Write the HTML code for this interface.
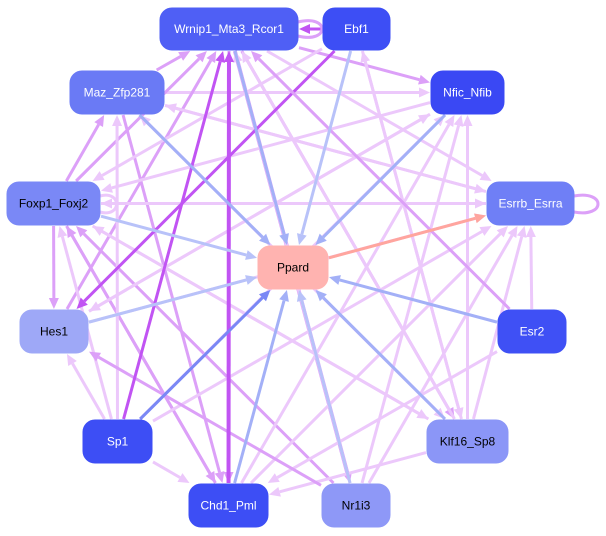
<!DOCTYPE html>
<html><head><meta charset="utf-8"><style>
html,body{margin:0;padding:0;background:#fff;width:606px;height:536px;overflow:hidden}
svg{display:block}
text{font-family:"Liberation Sans",sans-serif;font-size:12px}
</style></head><body>
<svg id="s" width="606" height="536" xmlns="http://www.w3.org/2000/svg">
<g id="edges"></g><g id="nodes"></g>
</svg>
<script>
var N={
W:[160,8,138,42,'#4f5ff5','#fff','Wrnip1_Mta3_Rcor1'],
E:[323,8,67,42,'#3d4ef5','#fff','Ebf1'],
M:[70,71,94,43,'#6a7af5','#fff','Maz_Zfp281'],
F:[431,71,73,43,'#3a48f4','#fff','Nfic_Nfib'],
X:[7,182,93,43,'#7a88f6','#000','Foxp1_Foxj2'],
R:[487,182,87,43,'#6f7ff6','#fff','Esrrb_Esrra'],
P:[258,246,70,43,'#ffb3b0','#000','Ppard'],
H:[20,310,68,43,'#9ea8f7','#000','Hes1'],
S2:[498,310,68,43,'#3f50f5','#fff','Esr2'],
S:[83,420,69,43,'#3d4ef5','#fff','Sp1'],
K:[427,420,81,43,'#8b96f7','#000','Klf16_Sp8'],
C:[189,484,79,43,'#3d4ef5','#fff','Chd1_Pml'],
Q:[322,484,68,43,'#8e98f7','#000','Nr1i3']};
var LP='#ecc8fb',MP='#dca0f8',SP='#c154f3',BL='#a3b0f7',BL2='#b8c2f9',DB='#7a88f5',SA='#ffa59e';
var E=[
['W','F',MP,3],['M','F',LP,3],['M','R',LP,3],['W','R',LP,3],['W','K',MP,3],['W','Q',MP,4],['W','C',MP,3],['X','W',MP,3],['H','W',MP,3],
['K','W',LP,3],['Q','W',LP,3],['E','K',LP,3],['K','E',LP,3],['X','R',LP,3],['X','K',LP,3],['X','C',MP,3],['C','X',MP,3],['Q','X',MP,3],['M','C',MP,3],
['S','M',LP,3],['S','X',LP,3],['S','H',LP,3],['S','C',LP,3],['S','F',LP,3],['S','R',LP,3],['C','F',LP,3],['C','R',LP,3],['K','C',LP,3],['Q','R',LP,3],['Q','F',LP,3],
['K','F',LP,3],['K','R',LP,3],['S2','R',LP,3],['S2','C',LP,3],['K','X',LP,3],['K','M',LP,3],['H','F',LP,3],['H','R',LP,3],['F','X',LP,3],['R','M',LP,3],['F','H',LP,3],['M','K',LP,3],['Q','H',MP,3],['X','M',MP,3],['R','X',LP,3],['E','X',LP,3],
['C','W',SP,4],['S','W',SP,3],['E','H',SP,3],['S2','W',MP,3],['X','H',MP,3],['M','W',MP,3],['E','W',SP,3],
['M','P',BL,3],['W','P',BL,3],['E','P',BL2,3],['F','P',BL,3],['X','P',BL2,3],['H','P',BL2,3],['S','P',DB,3],['C','P',BL,3],['Q','P',BL2,3],['K','P',BL,3],['S2','P',BL,3],['P','R',SA,3]];
function ctr(n){var a=N[n];return [a[0]+a[2]/2,a[1]+a[3]/2]}
function clip(n,dx,dy){var a=N[n];var hw=a[2]/2+1,hh=a[3]/2+1;return Math.min(dx?hw/Math.abs(dx):1e9,dy?hh/Math.abs(dy):1e9)}
var out='';
E.forEach(function(e){var a=ctr(e[0]),b=ctr(e[1]);var dx=b[0]-a[0],dy=b[1]-a[1];
var t1=clip(e[0],dx,dy),t2=clip(e[1],-dx,-dy);
var x1=a[0]+dx*t1,y1=a[1]+dy*t1,x2=b[0]-dx*t2,y2=b[1]-dy*t2;
var L=Math.hypot(x2-x1,y2-y1),ux=(x2-x1)/L,uy=(y2-y1)/L;
var hx=x2-ux*11,hy=y2-uy*11,px=-uy*5,py=ux*5;
out+='<line x1="'+x1+'" y1="'+y1+'" x2="'+hx+'" y2="'+hy+'" stroke="'+e[2]+'" stroke-width="'+e[3]+'"/>';
out+='<polygon points="'+x2+','+y2+' '+(hx+px)+','+(hy+py)+' '+(hx-px)+','+(hy-py)+'" fill="'+e[2]+'"/>';});
out+='<path d="M298,22 C330,14 330,44 298,36" fill="none" stroke="'+MP+'" stroke-width="3"/>';
out+='<path d="M100,196 C122,190 122,218 100,212" fill="none" stroke="'+LP+'" stroke-width="3"/>';
out+='<path d="M574,196 C606,190 606,218 574,212" fill="none" stroke="'+MP+'" stroke-width="3"/>';
document.getElementById('edges').innerHTML=out;
var o='';for(var k in N){var a=N[k];o+='<rect x="'+a[0]+'" y="'+a[1]+'" width="'+a[2]+'" height="'+a[3]+'" rx="12" fill="'+a[4]+'" stroke="'+a[4]+'"/>';
o+='<text x="'+(a[0]+a[2]/2)+'" y="'+(a[1]+a[3]/2+4)+'" text-anchor="middle" fill="'+a[5]+'">'+a[6]+'</text>';}
document.getElementById('nodes').innerHTML=o;
</script>
</body></html>
